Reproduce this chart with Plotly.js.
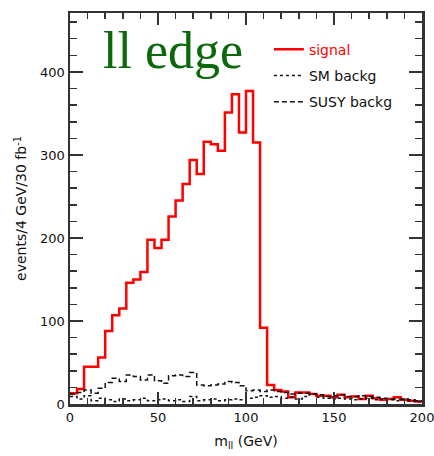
<!DOCTYPE html>
<html>
<head>
<meta charset="utf-8">
<script src="https://cdn.plot.ly/plotly-3.0.1.min.js"></script>
<style>
  html, body { margin: 0; padding: 0; background: #fff; }
  #chart { width: 434px; height: 456px; }
</style>
</head>
<body>
<div id="chart"></div>
<script>
// Dilepton invariant mass, 4 GeV bins from 0 to 200 GeV, events per bin for 30 fb^-1
const binWidth = 4;
const massMin = 0;

const signal = [
  13, 18, 45, 45, 56, 88, 107, 115, 146, 150,
  159, 198, 188, 198, 226, 245, 265, 294, 277, 316,
  313, 305, 351, 373, 327, 377, 315, 92, 23, 17,
  15, 8, 14, 14, 12, 10, 10, 8, 11, 8,
  9, 6, 10, 7, 5, 6, 8, 5, 4, 3
];

const smBackg = [
  9, 6, 10, 4, 7, 5, 3, 6, 4, 5,
  7, 4, 5, 6, 4, 5, 3, 9, 4, 5,
  6, 4, 5, 6, 5, 7, 8, 10, 8, 9,
  7, 8, 6, 9, 12, 8, 7, 6, 7, 6,
  5, 6, 7, 5, 6, 5, 4, 5, 4, 3
];

const susyBackg = [
  12, 14, 17, 13, 19, 26, 31, 27, 35, 33,
  29, 35, 28, 25, 34, 35, 33, 38, 23, 22,
  23, 24, 27, 26, 22, 16, 17, 15, 17, 15,
  14, 12, 13, 13, 12, 11, 9, 10, 11, 9,
  9, 10, 9, 8, 7, 6, 6, 6, 5, 4
];

const legendNames = ['<span style="color:#ff0000">signal</span>', 'SM backg', 'SUSY backg'];
const xTicks = [0, 50, 100, 150, 200];
const yTicks = [0, 100, 200, 300, 400];

// Turn per-bin contents into a step outline (left bin edges, last bin closed at the upper edge)
function stepOutline(values) {
  const x = values.map((_, i) => massMin + i * binWidth);
  x.push(massMin + values.length * binWidth);
  const y = values.slice();
  y.push(values[values.length - 1]);
  return { x, y };
}

const sig = stepOutline(signal);
const sm = stepOutline(smBackg);
const susy = stepOutline(susyBackg);

const traces = [
  {
    x: sig.x, y: sig.y, type: 'scatter', mode: 'lines', name: legendNames[0],
    line: { shape: 'hv', color: '#ff0000', width: 2.5 }, legendgroup: 'a'
  },
  {
    x: sm.x, y: sm.y, type: 'scatter', mode: 'lines', name: legendNames[1],
    line: { shape: 'hv', color: '#111111', width: 1.5, dash: 'dot' }, legendgroup: 'b'
  },
  {
    x: susy.x, y: susy.y, type: 'scatter', mode: 'lines', name: legendNames[2],
    line: { shape: 'hv', color: '#111111', width: 1.5, dash: '5px,3px' }, legendgroup: 'c'
  }
];

const axisFont = { family: 'DejaVu Sans, Arial, sans-serif', size: 13, color: '#111' };

const layout = {
  width: 434,
  height: 456,
  margin: { l: 70, r: 12, t: 13, b: 52 },
  paper_bgcolor: '#ffffff',
  plot_bgcolor: '#ffffff',
  showlegend: true,
  legend: {
    x: 0.565, y: 0.947, xanchor: 'left', yanchor: 'top',
    bgcolor: 'rgba(0,0,0,0)',
    traceorder: 'grouped',
    tracegroupgap: 5,
    font: { family: 'DejaVu Sans, Arial, sans-serif', size: 14, color: '#111' }
  },
  xaxis: {
    range: [0, 200],
    tickmode: 'array', tickvals: xTicks, ticktext: xTicks.map(String),
    ticklabeloverflow: 'allow',
    ticks: 'inside', ticklen: 12, tickwidth: 2, tickcolor: '#333',
    minor: { ticks: 'inside', dtick: 10, ticklen: 6, tickwidth: 1.5, tickcolor: '#333' },
    showline: true, linewidth: 2.5, linecolor: '#333', mirror: 'allticks',
    showgrid: false, zeroline: false,
    tickfont: axisFont,
    title: { text: 'm<sub>ll</sub> (GeV)', font: { family: 'DejaVu Sans, Arial, sans-serif', size: 14, color: '#111' }, standoff: 12 }
  },
  yaxis: {
    range: [0, 471],
    tickmode: 'array', tickvals: yTicks, ticktext: yTicks.map(String),
    ticks: 'inside', ticklen: 13, tickwidth: 2, tickcolor: '#333',
    minor: { ticks: 'inside', dtick: 20, ticklen: 7, tickwidth: 1.5, tickcolor: '#333' },
    showline: true, linewidth: 2.5, linecolor: '#333', mirror: 'allticks',
    showgrid: false, zeroline: false,
    tickfont: axisFont,
    title: { text: 'events/4 GeV/30 fb<sup>-1</sup>', font: { family: 'DejaVu Sans, Arial, sans-serif', size: 14, color: '#111' }, standoff: 10 }
  },
  annotations: [
    {
      text: 'll edge', xref: 'paper', yref: 'paper',
      x: 0.088, y: 0.905, xanchor: 'left', yanchor: 'middle',
      showarrow: false,
      font: { family: 'Liberation Serif, Times New Roman, serif', size: 52, color: '#0b690b' }
    }
  ]
};

Plotly.newPlot('chart', traces, layout, { displayModeBar: false, staticPlot: true });
</script>
</body>
</html>
